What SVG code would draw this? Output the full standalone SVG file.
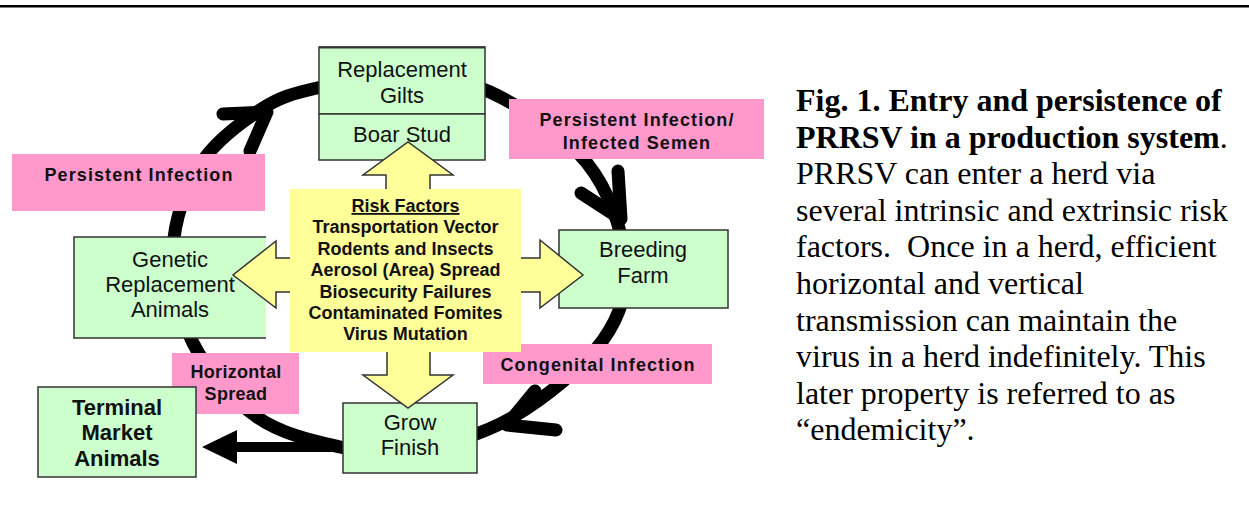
<svg xmlns="http://www.w3.org/2000/svg" width="1249" height="520" viewBox="0 0 1249 520">
<style>
.box{fill:#ccffcc;stroke:#333;stroke-width:1.5}
.lbl{fill:#ff99cc}
.ya{fill:#ffff99;stroke:#333;stroke-width:1.5;stroke-linejoin:miter}
.ring{fill:none;stroke:#000;stroke-width:13}
.chev{fill:none;stroke:#000;stroke-width:13;stroke-linecap:round;stroke-linejoin:round}
.t{font-family:"Liberation Sans",Arial,sans-serif;font-size:22px;fill:#111;text-anchor:middle}
.tb{font-family:"Liberation Sans",Arial,sans-serif;font-size:22px;font-weight:bold;fill:#111;text-anchor:middle}
.pl{font-family:"Liberation Sans",Arial,sans-serif;font-size:18px;font-weight:bold;fill:#111;text-anchor:middle;letter-spacing:1.1px}
.rf{font-family:"Liberation Sans",Arial,sans-serif;font-size:18px;font-weight:bold;fill:#111;text-anchor:middle}
.cap{font-family:"Liberation Serif","Times New Roman",serif;font-size:32px;fill:#000}
</style>
<rect x="0" y="5" width="1249" height="2.5" fill="#000"/>
<g id="connectors">
<path class="ring" d="M401,78 C429.8,78.7 459,77.8 490,92 C521,106.2 564.5,135 587,163 C609.5,191 622.3,230.5 625,260 C627.7,289.5 621.7,313.8 603,340 C584.3,366.2 545.2,398.3 513,417 C480.8,435.7 438.8,447 410,452 C381.2,457 365.5,452.8 340,447 C314.5,441.2 281.5,434.3 257,417 C232.5,399.7 207,370.8 193,343 C179,315.2 171.8,279.7 173,250 C174.2,220.3 185.5,188.3 200,165 C214.5,141.7 240.5,122.8 260,110 C279.5,97.2 293.5,93.3 317,88 C340.5,82.7 372.2,77.3 401,78 Z"/>
<path class="chev" d="M223,114 L267,112 L250,151"/>
<path class="chev" d="M618,171 L621,219 L581,193"/>
<path class="chev" d="M535,391 L507,425 L556,430"/>
<polygon points="345,442 237,442 237,430 202,447 237,464 237,452 345,452" fill="#000"/>
</g>
<g id="label-persistent-infection">
<rect class="lbl" x="12" y="154" width="253" height="57"/>
<text class="pl" x="139" y="181">Persistent Infection</text>
</g>
<g id="label-persistent-semen">
<rect class="lbl" x="509" y="99" width="255" height="60"/>
<text class="pl" x="637" y="126">Persistent Infection/</text>
<text class="pl" x="637" y="149">Infected Semen</text>
</g>
<g id="label-congenital">
<rect class="lbl" x="483" y="344" width="229" height="40"/>
<text class="pl" x="598" y="371">Congenital Infection</text>
</g>
<g id="label-horizontal">
<rect class="lbl" x="172" y="353" width="127" height="61"/>
<text class="pl" x="236" y="378" style="letter-spacing:0.3px">Horizontal</text>
<text class="pl" x="236" y="400" style="letter-spacing:0.3px">Spread</text>
</g>
<g id="node-replacement-gilts">
<rect class="box" x="319" y="47" width="166" height="67"/>
<line x1="319" y1="47.5" x2="485" y2="47.5" stroke="#333" stroke-width="2"/>
</g>
<g id="node-boar-stud">
<rect class="box" x="319" y="114" width="166" height="46"/>
</g>
<g id="node-breeding-farm">
<rect class="box" x="559" y="230" width="169" height="78"/>
</g>
<g id="node-genetic">
<rect x="74" y="237" width="192" height="101" fill="#ccffcc"/>
<path d="M266,237 H74 V338 H266" fill="none" stroke="#333" stroke-width="1.5"/>
</g>
<g id="node-grow-finish">
<rect class="box" x="343" y="403" width="134" height="70"/>
</g>
<g id="node-terminal">
<rect class="box" x="38" y="387" width="158" height="90"/>
</g>
<g id="risk-factors">
<polygon class="ya" points="386,191 386,175 363,175 408,142 453,175 430,175 430,191"/>
<polygon class="ya" points="387,350 387,375 363,375 408,408 453,375 430,375 430,350"/>
<polygon class="ya" points="292,258 276,258 276,241 233,275 276,308 276,292 292,292"/>
<polygon class="ya" points="519,258 540,258 540,240 583,275 540,308 540,292 519,292"/>
<rect x="290" y="189" width="231" height="163" fill="#ffff99"/>
<text class="rf" x="405.5" y="212" text-decoration="underline">Risk Factors</text>
<text class="rf" x="405.5" y="233">Transportation Vector</text>
<text class="rf" x="405.5" y="254.5">Rodents and Insects</text>
<text class="rf" x="405.5" y="276">Aerosol (Area) Spread</text>
<text class="rf" x="405.5" y="297.5">Biosecurity Failures</text>
<text class="rf" x="405.5" y="319">Contaminated Fomites</text>
<text class="rf" x="405.5" y="339.5">Virus Mutation</text>
</g>
<g id="node-texts">
<text class="t" x="402" y="77">Replacement</text>
<text class="t" x="402" y="103">Gilts</text>
<text class="t" x="402" y="142">Boar Stud</text>
<text class="t" x="643" y="257">Breeding</text>
<text class="t" x="643" y="283">Farm</text>
<text class="t" x="170" y="267">Genetic</text>
<text class="t" x="170" y="292">Replacement</text>
<text class="t" x="170" y="317">Animals</text>
<text class="t" x="410" y="430">Grow</text>
<text class="t" x="410" y="455">Finish</text>
<text class="tb" x="117" y="415">Terminal</text>
<text class="tb" x="117" y="440">Market</text>
<text class="tb" x="117" y="466">Animals</text>
</g>
<g id="caption">
<text class="cap" x="796" y="111" font-weight="bold">Fig. 1. Entry and persistence of</text>
<text class="cap" x="796" y="147.6"><tspan font-weight="bold">PRRSV in a production system</tspan>.</text>
<text class="cap" x="796" y="184.2">PRRSV can enter a herd via</text>
<text class="cap" x="796" y="220.8">several intrinsic and extrinsic risk</text>
<text class="cap" x="796" y="257.4" xml:space="preserve">factors.  Once in a herd, efficient</text>
<text class="cap" x="796" y="294">horizontal and vertical</text>
<text class="cap" x="796" y="330.6">transmission can maintain the</text>
<text class="cap" x="796" y="367.2">virus in a herd indefinitely. This</text>
<text class="cap" x="796" y="403.8">later property is referred to as</text>
<text class="cap" x="796" y="440.4">“endemicity”.</text>
</g>
</svg>
